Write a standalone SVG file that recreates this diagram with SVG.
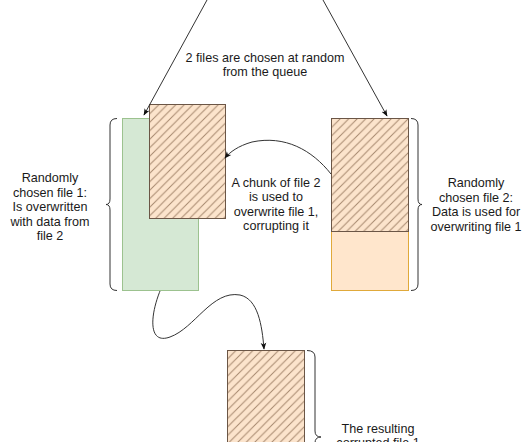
<svg xmlns="http://www.w3.org/2000/svg" width="530" height="442" viewBox="0 0 530 442">
<style>
text{font-family:"Liberation Sans",Arial,sans-serif;font-size:12.6px;fill:#1a1a1a;text-anchor:middle}
.edge{fill:none;stroke:#333;stroke-width:1}
.brace{fill:none;stroke:#333;stroke-width:1}
.green{fill:#d5e8d4;stroke:#9cc28f;stroke-width:1}
.orange{fill:#ffe6cc;stroke:#e0a93a;stroke-width:1}
.hatch{fill:url(#h);stroke:#6b5646;stroke-width:1}
</style>
<defs>
<pattern id="h" patternUnits="userSpaceOnUse" width="8.5" height="8.5">
<rect width="8.5" height="8.5" fill="#fce4cc"/>
<path d="M-2,2 L2,-2 M0,8.5 L8.5,0 M6.5,10.5 L10.5,6.5" stroke="#a5876d" stroke-width="1"/>
</pattern>
<marker id="a" viewBox="0 0 10 10" refX="9" refY="5" markerWidth="7" markerHeight="7" orient="auto">
<path d="M0,1 L10,5 L0,9 L2.5,5 Z" fill="#111"/>
</marker>
</defs>
<g id="file1">
<rect class="green" x="122.5" y="118.5" width="76" height="172"/>
</g>
<g id="chunk1">
<rect class="hatch" x="149.5" y="104.5" width="76" height="114"/>
</g>
<g id="file2">
<rect class="orange" x="331.5" y="118.5" width="77" height="172"/>
<rect class="hatch" x="331.5" y="118.5" width="77" height="113"/>
</g>
<g id="result">
<rect class="hatch" x="227.5" y="350.5" width="77" height="120"/>
</g>
<g id="braces">
<path class="brace" d="M117,118.5 Q110,118.5 110,125 L110,199 Q110,204.5 106,204.5 Q110,204.5 110,210 L110,284 Q110,290.5 117,290.5"/>
<path class="brace" d="M411,118.5 Q418,118.5 418,125 L418,199 Q418,204.5 422,204.5 Q418,204.5 418,210 L418,284 Q418,290.5 411,290.5"/>
<path class="brace" d="M307,350.5 Q315,350.5 315,357 L315,431 Q315,437 321,437 Q315,437 315,443"/>
</g>
<g id="connectors">
<path class="edge" marker-end="url(#a)" d="M207,0 L144,115"/>
<path class="edge" marker-end="url(#a)" d="M323,0 L387,116"/>
<path class="edge" marker-end="url(#a)" d="M331,174 C312,150 285,135 252,142 C238,146 230,152 225,158"/>
<path class="edge" marker-end="url(#a)" d="M160,291 C150,316 148,345 170,337 C195,328 212,290 240,295 C258,299 262,325 264,349"/>
</g>
<g id="labels">
<text x="265" y="62">2 files are chosen at random</text>
<text x="265" y="76">from the queue</text>
<text x="50" y="182">Randomly</text>
<text x="50" y="197">chosen file 1:</text>
<text x="50" y="211">Is overwritten</text>
<text x="50" y="226">with data from</text>
<text x="50" y="240">file 2</text>
<text x="276" y="187">A chunk of file 2</text>
<text x="276" y="201">is used to</text>
<text x="276" y="216">overwrite file 1,</text>
<text x="276" y="230">corrupting it</text>
<text x="476" y="187">Randomly</text>
<text x="476" y="202">chosen file 2:</text>
<text x="476" y="216">Data is used for</text>
<text x="476" y="231">overwriting file 1</text>
<text x="378" y="433">The resulting</text>
<text x="378" y="447">corrupted file 1</text>
</g>
</svg>
